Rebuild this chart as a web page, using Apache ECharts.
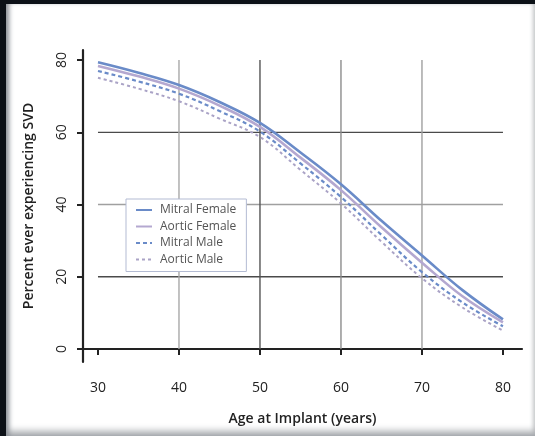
<!DOCTYPE html>
<html>
<head>
<meta charset="utf-8">
<script src="https://cdn.jsdelivr.net/npm/echarts@6/dist/echarts.min.js"></script>
<style>
  html, body { margin: 0; padding: 0; width: 535px; height: 436px; background: #0c1117; overflow: hidden; }
  #panel { position: absolute; left: 6px; top: 4px; width: 529px; height: 432px; background: #ffffff;
    box-shadow: inset 5px 0 5px -2px #8a8f96, inset 0 -9px 7px -4px #a9acb0, inset -5px 0 4px -3px #c9cbcd; }
  #chart { position: absolute; left: 0; top: 0; width: 535px; height: 436px; }
</style>
</head>
<body>
<div id="panel"></div>
<div id="chart"></div>
<script>
// ---- data ----
const ages = [30, 35, 40, 45, 50, 55, 60, 65, 70, 75, 80];
const mitralFemale = [79.4, 76.5, 73.1, 68.4, 62.6, 54.4, 45.6, 35.5, 25.9, 16.3, 8.2];
const aorticFemale = [78.4, 75.5, 72.1, 67.4, 61.5, 53.0, 44.0, 33.7, 23.9, 14.6, 7.4];
const mitralMale   = [77.0, 74.1, 70.7, 65.9, 60.2, 51.4, 42.1, 31.6, 21.3, 12.9, 6.3];
const aorticMale   = [75.1, 72.1, 68.6, 63.8, 58.7, 49.6, 40.3, 29.7, 19.6, 11.5, 5.1];
const seriesNames = ['Mitral Female', 'Aortic Female', 'Mitral Male', 'Aortic Male'];
const xTicks = [30, 40, 50, 60, 70, 80];
const yTicks = [0, 20, 40, 60, 80];
const hGridValues = [20, 40, 60];
const vGridValues = [40, 50, 60, 70];

// ---- styles ----
const hGridColors = ['#4a4a4a', '#a0a0a0', '#4a4a4a'];
const vGridColors = ['#a8a8a8', '#555555', '#8c8c8c', '#a0a0a0'];
const curveStyles = [
  { color: '#6a8bc8', type: 'solid', width: 2.6 },
  { color: '#b4a8d0', type: 'solid', width: 2.6 },
  { color: '#6a8bc8', type: [4, 3], width: 2.2 },
  { color: '#aaa3c6', type: [3, 3], width: 2.0 }
];
const font = '"Open Sans", "DejaVu Sans", sans-serif';

const curveData = [mitralFemale, aorticFemale, mitralMale, aorticMale];
const series = [];
hGridValues.forEach((v, i) => {
  series.push({ type: 'line', silent: true, symbol: 'none', z: 1,
    data: [[xTicks[0], v], [xTicks[xTicks.length - 1], v]],
    lineStyle: { color: hGridColors[i], width: 1.4 } });
});
vGridValues.forEach((v, i) => {
  series.push({ type: 'line', silent: true, symbol: 'none', z: 1,
    data: [[v, yTicks[0]], [v, yTicks[yTicks.length - 1]]],
    lineStyle: { color: vGridColors[i], width: 1.4 } });
});
curveData.forEach((vals, i) => {
  series.push({ type: 'line', name: seriesNames[i], symbol: 'none', smooth: 0.4, z: 3,
    data: ages.map((a, k) => [a, vals[k]]),
    lineStyle: curveStyles[i], itemStyle: { color: curveStyles[i].color } });
});

const chart = echarts.init(document.getElementById('chart'));
chart.setOption({
  animation: false,
  backgroundColor: 'transparent',
  grid: { left: 83, top: 50, right: 13, bottom: 74, containLabel: false },
  legend: {
    data: seriesNames, orient: 'vertical', left: 126, top: 199,
    backgroundColor: '#ffffff', borderColor: '#b3bbd3', borderWidth: 1,
    padding: [5, 10, 6, 9], itemWidth: 16, itemHeight: 10, itemGap: 4.5,
    itemStyle: { opacity: 0 },
    textStyle: { fontFamily: font, fontSize: 12, color: '#555', padding: [0, 0, 0, 3], lineHeight: 12 },
    selectedMode: false, z: 10
  },
  xAxis: {
    type: 'value', min: 28.15, max: 82.35,
    name: 'Age at Implant (years)', nameLocation: 'middle', nameGap: 50,
    nameTextStyle: { fontFamily: font, fontSize: 14, fontWeight: 600, color: '#222' },
    axisLine: { show: true, lineStyle: { color: '#222', width: 2.2 } },
    axisTick: { show: true, customValues: xTicks, length: 6, lineStyle: { color: '#222', width: 2 } },
    axisLabel: { customValues: xTicks, margin: 19, fontFamily: font, fontSize: 14, fontWeight: 500, color: '#222' },
    splitLine: { show: false }
  },
  yAxis: {
    type: 'value', min: -3.6, max: 82.8,
    name: 'Percent ever experiencing SVD', nameLocation: 'middle', nameGap: 47,
    nameTextStyle: { fontFamily: font, fontSize: 14, fontWeight: 600, color: '#222' },
    axisLine: { show: true, lineStyle: { color: '#222', width: 2.2 } },
    axisTick: { show: true, customValues: yTicks, length: 6, lineStyle: { color: '#222', width: 2 } },
    axisLabel: { customValues: yTicks, rotate: 90, margin: 14, fontFamily: font, fontSize: 14, fontWeight: 500, color: '#222' },
    splitLine: { show: false }
  },
  series: series
});
</script>
</body>
</html>
